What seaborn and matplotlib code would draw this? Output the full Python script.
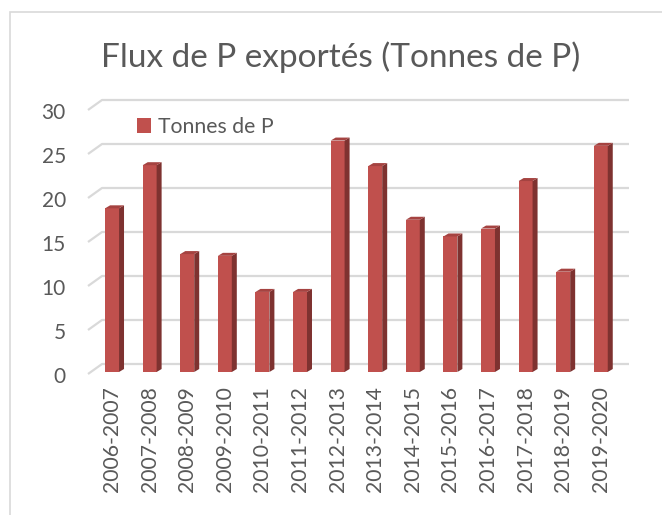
import matplotlib
matplotlib.use("Agg")
import matplotlib.pyplot as plt
import matplotlib.transforms as mtransforms
from matplotlib.patches import Polygon, Rectangle
import pandas as pd
import seaborn as sns

# Exported phosphorus per campaign (tonnes of P)
campagnes = ["2006-2007", "2007-2008", "2008-2009", "2009-2010", "2010-2011",
             "2011-2012", "2012-2013", "2013-2014", "2014-2015", "2015-2016",
             "2016-2017", "2017-2018", "2018-2019", "2019-2020"]
tonnes_p = [18.6, 23.5, 13.4, 13.2, 9.1, 9.1, 26.3, 23.4, 17.3, 15.4,
            16.3, 21.7, 11.4, 25.7]
graduations = [0, 5, 10, 15, 20, 25, 30]
serie = "Tonnes de P"
titre = "Flux de P exportés (Tonnes de P)"

FACE = "#C0504D"
SIDE = "#7E3230"
TOP = "#A54341"
GRID = "#D9D9D9"
TEXT = "#595959"

sns.set_theme(style="white")
plt.rcParams["font.family"] = ["Lato", "DejaVu Sans"]

W, H = 662, 515
fig = plt.figure(figsize=(W / 100, H / 100), dpi=100)


def px_box(left, top, right, bottom):
    return [left / W, 1 - bottom / H, (right - left) / W, (bottom - top) / H]


ax = fig.add_axes(px_box(88, 108, 629, 372))

df = pd.DataFrame({"Campagne": campagnes, serie: tonnes_p})
sns.barplot(data=df, x="Campagne", y=serie, color=FACE, saturation=1,
            width=0.37, edgecolor="none", linewidth=0, label=serie,
            ax=ax, zorder=3)

ax.set_xlim(-0.64, 13.75)
ax.set_ylim(0, 30)
for s in ax.spines.values():
    s.set_visible(False)
ax.grid(False)
ax.set_xlabel("")
ax.set_ylabel("")

to_disp = ax.transData
inv = ax.transData.inverted()


def shift(x, y, dx, dy):
    X, Y = to_disp.transform((x, y))
    return tuple(inv.transform((X + dx, Y + dy)))


# gridlines on the back wall, with the short perspective stroke on the side wall
x_left = inv.transform((ax.transAxes.transform((0, 0))[0], 0))[0]
x_right = inv.transform((ax.transAxes.transform((1, 0))[0], 0))[0]
for v in graduations:
    front = shift(x_left, v, 0, -2)
    back = shift(x_left, v, 14, 8)
    end = shift(x_right, v, 0, 8)
    ax.plot([front[0], back[0], end[0]], [front[1], back[1], end[1]],
            color=GRID, lw=1.6, clip_on=False, zorder=1,
            solid_capstyle="butt")

# depth faces of each column
DX, DY = 5, 3
for p in ax.patches:
    x0, w, h = p.get_x(), p.get_width(), p.get_height()
    x1 = x0 + w
    side = [(x1, 0), (x1, h), shift(x1, h, DX, DY), shift(x1, 0, DX, DY)]
    top = [(x0, h), (x1, h), shift(x1, h, DX, DY), shift(x0, h, DX, DY)]
    ax.add_patch(Polygon(side, closed=True, facecolor=SIDE, edgecolor="none",
                         zorder=3, clip_on=False))
    ax.add_patch(Polygon(top, closed=True, facecolor=TOP, edgecolor="none",
                         zorder=3, clip_on=False))

ax.set_yticks(graduations)
ax.set_yticklabels([str(v) for v in graduations])
ax.tick_params(axis="y", length=0, pad=16, labelsize=15, labelcolor=TEXT)
ax.tick_params(axis="x", length=0, pad=10, labelsize=15.2, labelcolor=TEXT,
               rotation=90)
down = mtransforms.ScaledTranslation(0, -3 / 100, fig.dpi_scale_trans)
for lab in ax.get_yticklabels():
    lab.set_transform(lab.get_transform() + down)

leg = ax.legend(loc="upper left", bbox_to_anchor=(137 / W, 1 - 117 / H),
                bbox_transform=fig.transFigure, frameon=False,
                borderaxespad=0, borderpad=0, handlelength=0.65,
                handleheight=0.65, handletextpad=0.35, fontsize=15.3)
for t in leg.get_texts():
    t.set_color(TEXT)

fig.text(341 / W, 1 - 57 / H, titre, ha="center", va="center",
         fontsize=24, color=TEXT)

# chart frame
fig.add_artist(Rectangle((10 / W, -0.1), 1.2, 1 - 12 / H + 0.1,
                         transform=fig.transFigure, fill=False,
                         edgecolor="#D9D9D9", lw=1.2))

fig.savefig("out.png", dpi=100)
